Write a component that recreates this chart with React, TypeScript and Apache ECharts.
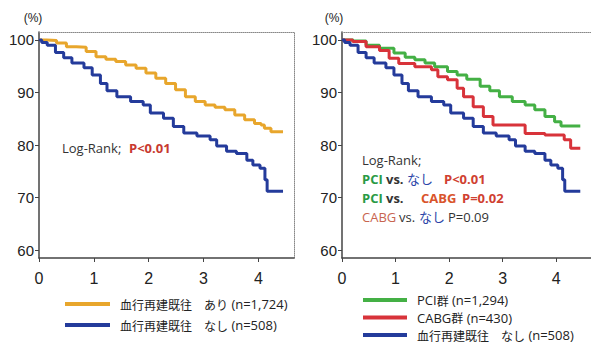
import React, { useEffect, useRef } from "react";
import * as echarts from "echarts";

// Left panel: prior revascularization yes / no
const ariTime = [0, 0.14, 0.32, 0.5, 0.68, 0.86, 1.04, 1.22, 1.4, 1.58, 1.77, 1.95, 2.13, 2.31, 2.49, 2.67, 2.85, 3.03, 3.21, 3.39, 3.57, 3.75, 3.93, 4.05, 4.11, 4.23, 4.45];
const ariSurv = [100, 99.9, 99.4, 98.7, 98.6, 97.8, 96.8, 96.3, 95.9, 95.2, 94.6, 93.7, 92.7, 91.7, 90.5, 89.2, 88.3, 87.6, 87.2, 86.7, 85.7, 84.8, 84.1, 83.8, 83.2, 82.5, 82.4];

const nashiTime = [0, 0.05, 0.15, 0.3, 0.45, 0.6, 0.82, 0.97, 1.12, 1.24, 1.42, 1.67, 1.9, 2.03, 2.27, 2.45, 2.64, 2.88, 3.12, 3.24, 3.42, 3.6, 3.79, 3.9, 4.03, 4.12, 4.16, 4.45];
const nashiSurv = [100, 99.5, 99, 97.6, 96.6, 95.6, 94.7, 93.3, 91.7, 90.3, 89.2, 88.3, 87.6, 86.1, 85.1, 83.5, 82.3, 81.7, 81.0, 79.8, 78.8, 78.4, 77.1, 76.2, 75.6, 73.4, 71.2, 71.2];

// Right panel: PCI / CABG
const pciTime = [0, 0.21, 0.45, 0.7, 0.97, 1.18, 1.36, 1.55, 1.73, 1.97, 2.15, 2.33, 2.58, 2.76, 2.94, 3.18, 3.42, 3.6, 3.79, 3.97, 4.09, 4.45];
const pciSurv = [100, 99.8, 99, 98.4, 97.5, 96.7, 96.2, 95.6, 94.9, 94, 93.3, 92.5, 91.2, 90.3, 89.2, 88.3, 87.6, 86.7, 85.4, 84.4, 83.6, 83.6];

const cabgTime = [0, 0.2, 0.45, 0.7, 0.88, 1.06, 1.36, 1.67, 1.79, 1.97, 2.15, 2.27, 2.45, 2.64, 2.82, 3.18, 3.42, 3.79, 4.1, 4.15, 4.27, 4.45];
const cabgSurv = [100, 99.7, 98.7, 98, 96.5, 95.5, 94.9, 94.3, 93, 92.4, 90.8, 89.2, 87.3, 85.4, 83.8, 83.8, 82.2, 81.9, 81.9, 81, 79.4, 79.4];

const xTicks = [0, 1, 2, 3, 4];
const yTicks = [60, 70, 80, 90, 100];

const nameAri = "血行再建既往　あり (n=1,724)";
const nameNashi = "血行再建既往　なし (n=508)";
const namePci = "PCI群 (n=1,294)";
const nameCabg = "CABG群 (n=430)";

const zip = (t: number[], s: number[]) => t.map((v, i) => [v, s[i]]);

const C_ORANGE = "#E8A62C";
const C_BLUE = "#243B9B";
const C_GREEN = "#44B045";
const C_RED = "#D8333A";

const AX_FONT = "'Liberation Sans', Arial, sans-serif";
const TXT_FONT = "'Open Sans', 'Noto Sans CJK JP', sans-serif";
const JP_FONT = "'Noto Sans CJK JP', sans-serif";

function xAxisMain(gridIndex: number) {
  return {
    type: "value",
    gridIndex,
    min: 0,
    max: 4.65,
    interval: 1,
    position: "bottom",
    axisLine: { show: true, lineStyle: { color: "#444", width: 1.5 } },
    axisTick: { show: true, length: 4, customValues: xTicks, lineStyle: { color: "#444" } },
    axisLabel: { customValues: xTicks, margin: 12, fontSize: 16, color: "#222", fontFamily: AX_FONT },
    splitLine: { show: false },
  };
}
function xAxisTop(gridIndex: number) {
  return {
    type: "value",
    gridIndex,
    min: 0,
    max: 4.65,
    position: "top",
    axisLine: { show: true, onZero: false, lineStyle: { color: "#888", width: 1, type: "dotted" } },
    axisTick: { show: false },
    axisLabel: { show: false },
    splitLine: { show: false },
  };
}
function yAxisMain(gridIndex: number) {
  return {
    type: "value",
    gridIndex,
    min: 58.5,
    max: 101.5,
    interval: 10,
    position: "left",
    axisLine: { show: true, lineStyle: { color: "#444", width: 1.5 } },
    axisTick: { show: true, length: 4, customValues: yTicks, lineStyle: { color: "#444" } },
    axisLabel: { customValues: yTicks, margin: 5, fontSize: 15, color: "#222", fontFamily: AX_FONT },
    splitLine: { show: false },
  };
}

function lineSeries(name: string, data: number[][], color: string, xi: number, yi: number) {
  return {
    type: "line",
    name,
    xAxisIndex: xi,
    yAxisIndex: yi,
    data,
    step: "end",
    symbol: "none",
    lineStyle: { color, width: 3 },
    itemStyle: { color },
    z: 3,
  };
}

function txt(text: string, x: number, y: number, fill: string, bold = false) {
  return {
    type: "text",
    x,
    y,
    style: {
      text,
      fill,
      fontSize: 13,
      fontFamily: TXT_FONT,
      fontWeight: bold ? "bold" : "normal",
      verticalAlign: "middle",
      align: "left",
    },
  };
}

const legendFormatter = (name: string) => name.replace(/[\u3000-\u9fff]+/g, (m) => `{j|${m}}`);

export default function App() {
  const ref = useRef<HTMLDivElement>(null);
  useEffect(() => {
    document.body.style.margin = "0";
    if (!ref.current) return;
    const chart = echarts.init(ref.current, undefined, { renderer: "svg" });
    const legendText = {
      fontSize: 13,
      color: "#222",
      fontFamily: TXT_FONT,
      lineHeight: 14,
      padding: [0, 0, 0, 5],
      rich: { j: { fontSize: 12, fontFamily: JP_FONT, color: "#222", lineHeight: 14 } },
    };
    chart.setOption({
      animation: false,
      backgroundColor: "#fff",
      grid: [
        { left: 39, top: 32, width: 255, height: 226 },
        { left: 342, top: 32, width: 256, height: 226 },
      ],
      xAxis: [xAxisMain(0), xAxisTop(0), xAxisMain(1), xAxisTop(1)],
      yAxis: [
        yAxisMain(0),
        {
          type: "value",
          gridIndex: 0,
          min: 58.5,
          max: 101.5,
          position: "right",
          axisLine: { show: true, onZero: false, lineStyle: { color: "#888", width: 1, type: "dotted" } },
          axisTick: { show: false },
          axisLabel: { show: false },
          splitLine: { show: false },
        },
        yAxisMain(1),
      ],
      legend: [
        {
          left: 65,
          top: 297,
          padding: 0,
          orient: "vertical",
          icon: "rect",
          itemWidth: 45,
          itemHeight: 4,
          itemGap: 7,
          selectedMode: false,
          data: [nameAri, nameNashi],
          formatter: legendFormatter,
          textStyle: legendText,
        },
        {
          left: 363,
          top: 293,
          padding: 0,
          height: 60,
          orient: "vertical",
          icon: "rect",
          itemWidth: 44,
          itemHeight: 4,
          itemGap: 3.5,
          selectedMode: false,
          data: [namePci, nameCabg, nameNashi],
          formatter: legendFormatter,
          textStyle: legendText,
        },
      ],
      series: [
        lineSeries(nameAri, zip(ariTime, ariSurv), C_ORANGE, 0, 0),
        lineSeries(nameNashi, zip(nashiTime, nashiSurv), C_BLUE, 0, 0),
        lineSeries(namePci, zip(pciTime, pciSurv), C_GREEN, 2, 2),
        lineSeries(nameCabg, zip(cabgTime, cabgSurv), C_RED, 2, 2),
        lineSeries(nameNashi, zip(nashiTime, nashiSurv), C_BLUE, 2, 2),
      ],
      graphic: [
        { type: "text", x: 33, y: 18, style: { text: "(%)", fill: "#222", fontSize: 12, fontFamily: AX_FONT, align: "center", verticalAlign: "middle" } },
        { type: "text", x: 334, y: 18, style: { text: "(%)", fill: "#222", fontSize: 12, fontFamily: AX_FONT, align: "center", verticalAlign: "middle" } },
        txt("Log-Rank;", 62, 148, "#333"),
        txt("P<0.01", 129, 148, "#C8392F", true),
        txt("Log-Rank;", 362, 160, "#333"),
        txt("PCI", 362, 179, "#2A9A45", true),
        txt("vs.", 386, 179, "#333", true),
        txt("なし", 407, 179, "#2B45A8"),
        txt("P<0.01", 444, 179, "#D04030", true),
        txt("PCI", 362, 198, "#2A9A45", true),
        txt("vs.", 386, 198, "#333", true),
        txt("CABG", 421, 198, "#D9542C", true),
        txt("P=0.02", 462, 198, "#D04030", true),
        txt("CABG", 362, 217, "#C86450"),
        txt("vs.", 399, 217, "#333"),
        txt("なし", 419, 217, "#2B45A8"),
        txt("P=0.09", 448, 217, "#333"),
      ],
    });
    return () => chart.dispose();
  }, []);
  return <div ref={ref} style={{ width: 591, height: 346 }} />;
}
